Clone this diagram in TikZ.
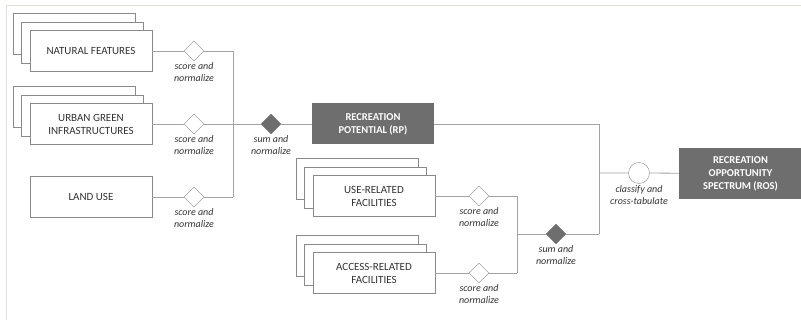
\documentclass[tikz,border=0pt]{standalone}
\usepackage{fontspec}
\setmainfont{Carlito}
\usetikzlibrary{positioning,shapes.geometric,shadows}
\definecolor{boxLine}{HTML}{8A8A8A}
\definecolor{flowLine}{HTML}{A3A3A3}
\definecolor{darkFill}{HTML}{6E6E6E}
\definecolor{textGray}{HTML}{333333}
\definecolor{frameColor}{HTML}{E2DFD8}

\begin{document}
\begin{tikzpicture}[x=1pt,y=-1pt,
  inbox/.style={draw=boxLine,fill=white,minimum width=122pt,minimum height=41pt,
    align=center,text=textGray,font=\fontsize{11}{13}\selectfont},
  stackbox/.style={inbox,
    general shadow={draw=boxLine,fill=white,shadow xshift=-17pt,shadow yshift=17pt},
    general shadow={draw=boxLine,fill=white,shadow xshift=-8.5pt,shadow yshift=8.5pt}},
  outbox/.style={fill=darkFill,minimum width=122pt,minimum height=41pt,align=center,
    text=white,font=\bfseries\fontsize{10.5}{13}\selectfont},
  score/.style={diamond,draw=boxLine,fill=white,inner sep=0pt,minimum width=20pt,minimum height=20pt},
  sum/.style={score,draw=darkFill,fill=darkFill},
  cross/.style={circle,draw=boxLine,fill=white,inner sep=0pt,minimum size=21pt},
  lbl/.style={font=\itshape\fontsize{10}{12}\selectfont,text=textGray,align=center,inner sep=0pt},
  flow/.style={draw=flowLine,line width=0.8pt}]
\useasboundingbox (0,0) rectangle (801,320);
\draw[frameColor,line width=0.8pt] (6,320) -- (6,5) -- (801,5);

% input layers
\node[stackbox] (nf) at (91,51) {NATURAL FEATURES};
\node[stackbox] (ug) at (91,124) {URBAN GREEN\\INFRASTRUCTURES};
\node[inbox] (lu) at (91,197) {LAND USE};
\node[score] (d1) at (194,51) {};
\node[score] (d2) at (194,124) {};
\node[score] (d3) at (194,197) {};
\node[lbl,below=1pt of d1] (l1) {score and\\normalize};
\node[lbl,below=1pt of d2] (l2) {score and\\normalize};
\node[lbl,below=1pt of d3] (l3) {score and\\normalize};
\coordinate (j1) at (233,51);
\coordinate (j3) at (233,197);

% recreation potential
\node[sum] (s1) at (271,124) {};
\node[lbl,below=1pt of s1] (l4) {sum and\\normalize};
\node[outbox] (rp) at (373,124) {RECREATION\\POTENTIAL (RP)};

% facilities
\node[stackbox] (uf) at (374,196) {USE-RELATED\\FACILITIES};
\node[stackbox] (af) at (374,273) {ACCESS-RELATED\\FACILITIES};
\node[score] (d4) at (479,196) {};
\node[score] (d5) at (479,273) {};
\node[lbl,below=1pt of d4] (l5) {score and\\normalize};
\node[lbl,below=1pt of d5] (l6) {score and\\normalize};
\coordinate (j7) at (517,196);
\coordinate (j8) at (517,273);
\coordinate (j9) at (517,234);
\node[sum] (s2) at (556,234) {};
\node[lbl,below=1pt of s2] (l7) {sum and\\normalize};

% spectrum
\coordinate (j4) at (599,124);
\coordinate (j5) at (599,173);
\coordinate (j6) at (599,234);
\node[cross] (c) at (639,173) {};
\node[lbl,below=1.5pt of c] (l8) {classify and\\cross-tabulate};
\node[outbox,minimum width=123pt,minimum height=51pt] (ros) at (740.5,173.5) {RECREATION\\OPPORTUNITY\\SPECTRUM (ROS)};

\draw[flow] (nf) -- (d1) -- (j1) -- (j3);
\draw[flow] (lu) -- (d3) -- (j3);
\draw[flow] (ug) -- (d2) -- (s1) -- (rp);
\draw[flow] (rp) -- (j4) -- (j6);
\draw[flow] (uf) -- (d4) -- (j7) -- (j8);
\draw[flow] (af) -- (d5) -- (j8);
\draw[flow] (j9) -- (s2) -- (j6);
\draw[flow] (j5) -- (c) -- (ros);
\end{tikzpicture}
\end{document}
